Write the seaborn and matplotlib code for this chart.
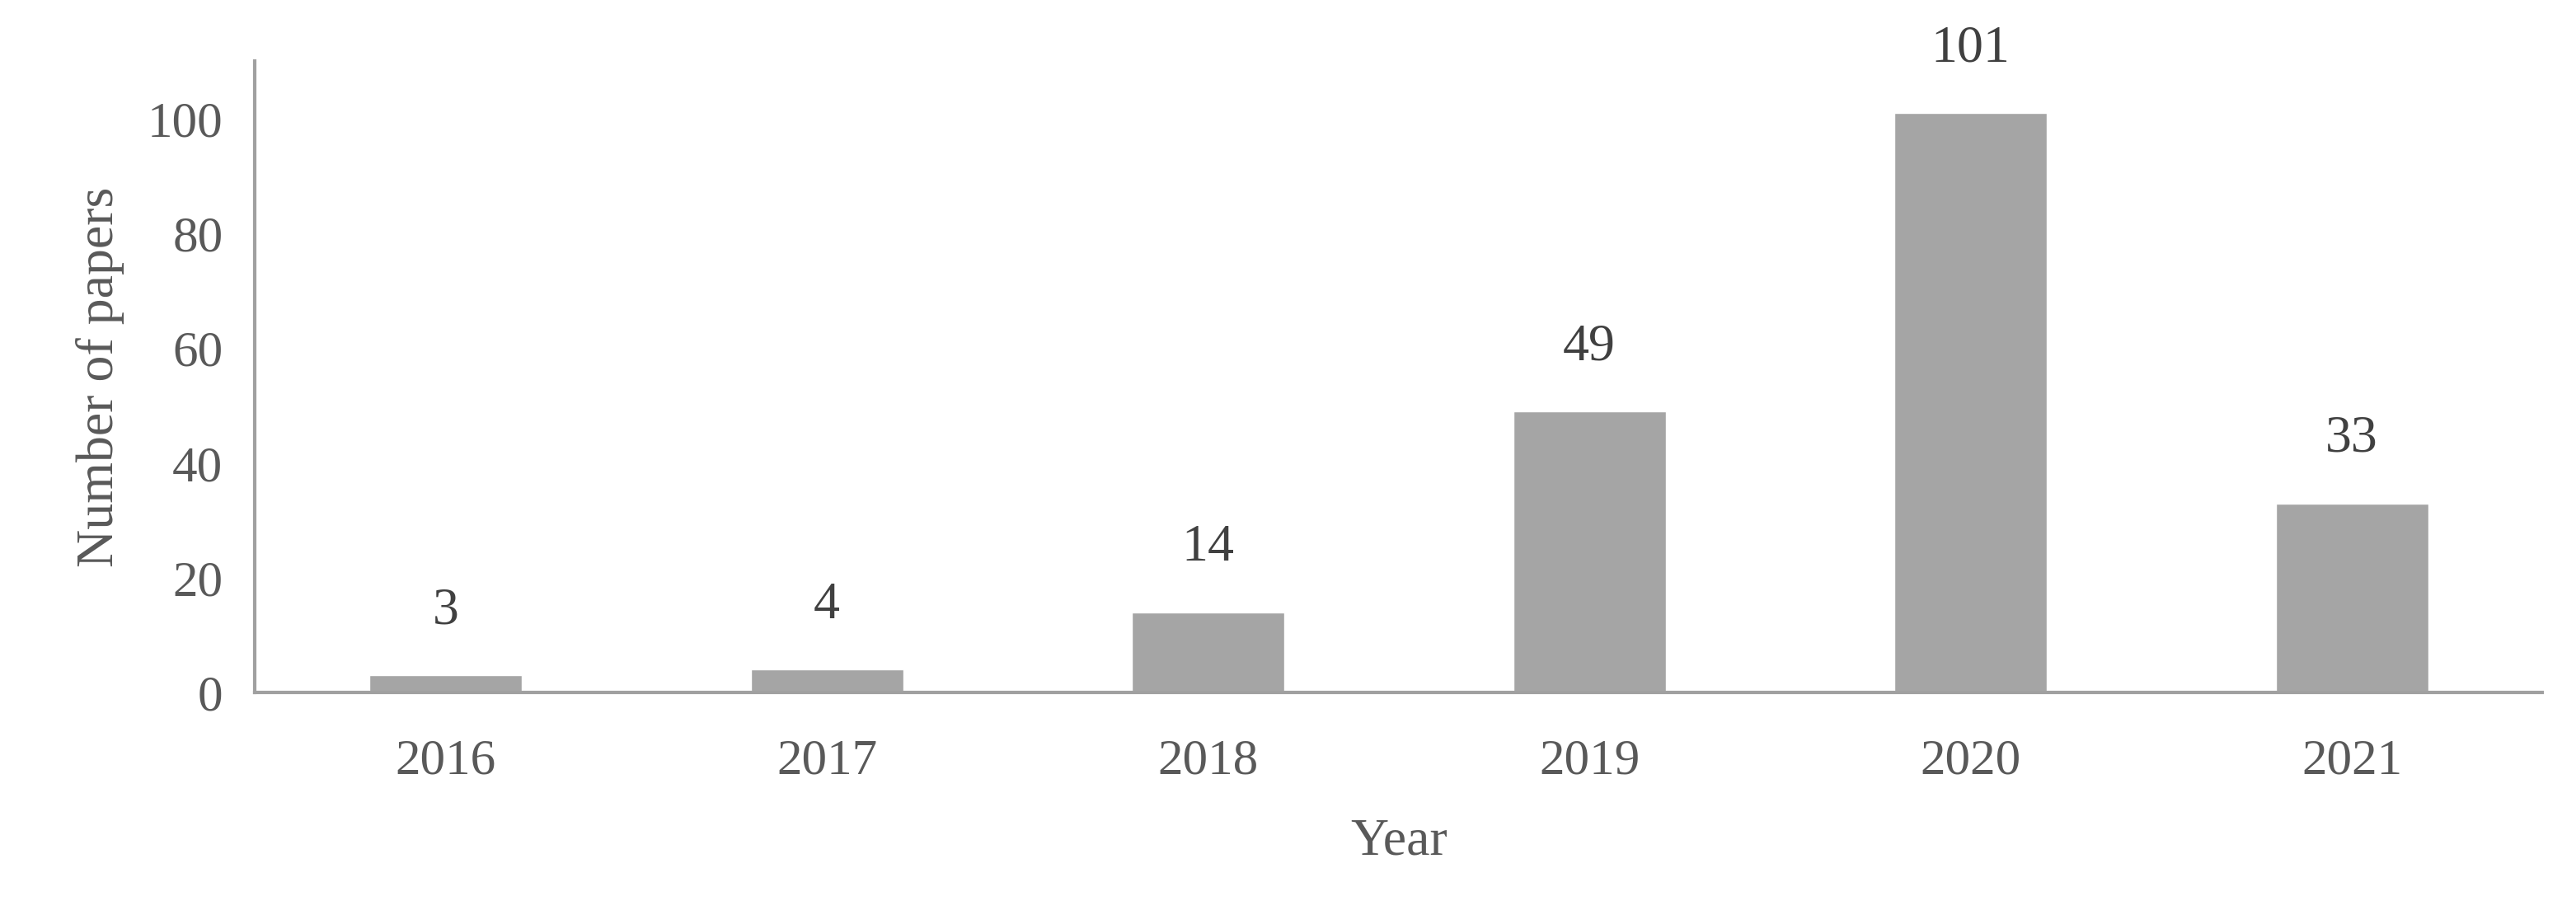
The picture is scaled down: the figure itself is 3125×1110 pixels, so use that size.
import matplotlib
matplotlib.use("Agg")
import matplotlib.pyplot as plt
import seaborn as sns
import pandas as pd

years = ["2016", "2017", "2018", "2019", "2020", "2021"]
papers = [3, 4, 14, 49, 101, 33]

sns.set_style("white")
plt.rcParams['font.family'] = ['Liberation Serif', 'DejaVu Serif']

df = pd.DataFrame({"Year": years, "Papers": papers})

fig = plt.figure(figsize=(31.25, 11.1), dpi=100)
ax = fig.add_axes([0.099, 0.243, 0.888, 0.69])
sns.barplot(data=df, x="Year", y="Papers", color="#a5a5a5", width=0.4,
            saturation=1, ax=ax)

for i, v in enumerate(papers):
    ax.text(i, v + 7, str(v), ha="center", va="bottom", fontsize=46, color="#404040")

ax.set_ylim(0, 110)
ax.set_xlim(-0.5, 5.5)
ax.set_yticks([0, 20, 40, 60, 80, 100])
for s in ["top", "right"]:
    ax.spines[s].set_visible(False)
for s in ["left", "bottom"]:
    ax.spines[s].set_color("#a0a0a0")
    ax.spines[s].set_linewidth(3)
ax.tick_params(axis="x", labelsize=44, colors="#595959", length=0, pad=40)
ax.tick_params(axis="y", labelsize=44, colors="#595959", length=14, width=3,
               color="#a0a0a0", direction="out", pad=14)
ax.set_xlabel("Year", fontsize=46, color="#595959", labelpad=30)
ax.set_ylabel("Number of papers", fontsize=46, color="#595959", labelpad=20)

fig.savefig("out.png", dpi=100)
